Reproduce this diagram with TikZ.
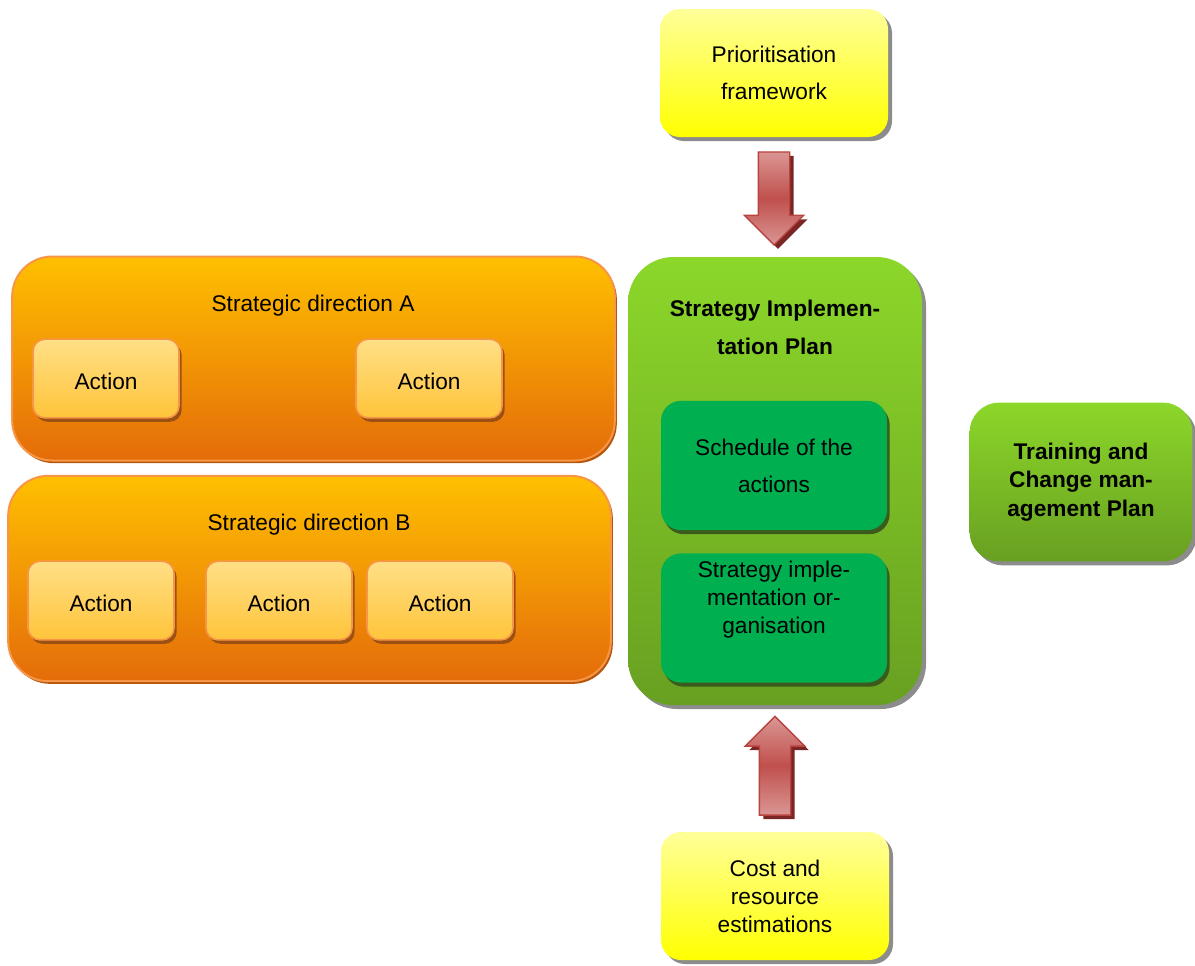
\documentclass[tikz,border=0pt]{standalone}
\usepackage{fontspec}
\setmainfont{Liberation Sans}
\usepackage{tikz}
\usetikzlibrary{shapes.arrows,shadows,calc}

\definecolor{amareloclaro}{HTML}{FFFF99}
\definecolor{amarelo}{HTML}{FFFF00}
\definecolor{verdeclaro}{HTML}{8CD72A}
\definecolor{verdeescuro}{HTML}{68A021}
\definecolor{verdeinterno}{HTML}{00B050}
\definecolor{sombraverde}{HTML}{3B5A1C}
\definecolor{ouro}{HTML}{FFC000}
\definecolor{laranja}{HTML}{E46C0A}
\definecolor{laranjaborda}{HTML}{F79646}
\definecolor{sombralaranja}{HTML}{B4560C}
\definecolor{acaoclaro}{HTML}{FFDF86}
\definecolor{acaoescuro}{HTML}{FFC43A}
\definecolor{sombraacao}{HTML}{9C5112}
\definecolor{rosa}{HTML}{DA9694}
\definecolor{vermelho}{HTML}{C0504D}
\definecolor{vermelhoborda}{HTML}{B8433F}
\definecolor{sombravermelha}{HTML}{7A2624}
\definecolor{sombracinza}{HTML}{8C8C8C}

\tikzset{
	texto/.style={align=center, inner sep=0pt, font=\fontsize{17}{21}\selectfont},
	caixa/.style={texto, rounded corners=15pt},
	amarela/.style={caixa, top color=amareloclaro, bottom color=amarelo,
		minimum width=171pt, minimum height=96pt,
		drop shadow={fill=sombracinza, opacity=1, shadow xshift=3pt, shadow yshift=-3pt}},
	verde/.style={caixa, top color=verdeclaro, bottom color=verdeescuro,
		drop shadow={fill=sombracinza, opacity=1, shadow xshift=3pt, shadow yshift=-3pt}},
	interna/.style={caixa, fill=verdeinterno, minimum width=169.5pt, minimum height=97pt,
		drop shadow={fill=sombraverde, opacity=1, shadow xshift=2pt, shadow yshift=-3pt}},
	direcao/.style={caixa, rounded corners=30pt, top color=ouro, bottom color=laranja,
		draw=laranjaborda, line width=1.5pt, minimum width=452pt, minimum height=153pt,
		drop shadow={fill=sombralaranja, opacity=1, shadow xshift=1.5pt, shadow yshift=-2pt}},
	acao/.style={caixa, rounded corners=9pt, top color=acaoclaro, bottom color=acaoescuro,
		draw=laranjaborda, line width=1.2pt, minimum width=109.5pt, minimum height=59pt,
		text height=17pt, text depth=0pt,
		drop shadow={fill=sombraacao, opacity=1, shadow xshift=2pt, shadow yshift=-3pt}},
	seta/.style={single arrow, inner sep=11.25pt, minimum width=43.5pt, anchor=tail,
		single arrow head extend=10.5pt, draw=vermelhoborda, line width=1pt,
		top color=rosa, bottom color=rosa, middle color=vermelho,
		drop shadow={fill=sombravermelha, opacity=1, shadow xshift=3pt, shadow yshift=-3pt}}
}

\begin{document}
\begin{tikzpicture}[x=0.75pt, y=-0.75pt]
	\useasboundingbox (0,0) rectangle (1195,965);
	% Caixas amarelas
	\node[amarela, font=\fontsize{17}{27.75}\selectfont] (prio) at (774,73) {Prioritisation\\framework};
	\node[amarela] (custo) at (775,896) {Cost and\\resource\\estimations};
	% Plano central
	\node[verde, rounded corners=34pt, minimum width=220.5pt, minimum height=336pt] (plano) at (775,481) {};
	\node[texto, font=\bfseries\fontsize{17}{28.5}\selectfont] (tituloplano) at (775,327) {Strategy Implemen-\\tation Plan};
	\node[interna, font=\fontsize{17}{27.75}\selectfont] (agenda) at (774,465.5) {Schedule of the\\actions};
	\node[interna] (organizacao) at (774,618) {};
	\node[texto] (textoorg) at (774,600) {Strategy imple-\\mentation or-\\ganisation};
	% Plano de formação
	\node[verde, rounded corners=22pt, minimum width=167pt, minimum height=119pt,
		font=\bfseries\fontsize{17}{21.5}\selectfont] (formacao) at (1081,482) {Training and\\Change man-\\agement Plan};
	% Setas
	\node[seta, shape border rotate=270, minimum height=69.75pt] (desce) at ($(prio.south)+(0,14)$) {};
	\node[seta, shape border rotate=90, minimum height=74pt] (sobe) at ($(custo.north)+(0,-16)$) {};
	% Direções estratégicas
	\node[direcao] (dirA) at (313.5,358.5) {};
	\node[texto] (tituloA) at (313,306) {Strategic direction A};
	\foreach \nome/\x in {a1/106, a2/429}
		\node[acao] (\nome) at (\x,378.5) {Action};
	\node[direcao, minimum height=154pt] (dirB) at (309.5,578.5) {};
	\node[texto] (tituloB) at (309,525) {Strategic direction B};
	\foreach \nome/\x in {b1/101, b2/279, b3/440}
		\node[acao] (\nome) at (\x,600.5) {Action};
\end{tikzpicture}
\end{document}
